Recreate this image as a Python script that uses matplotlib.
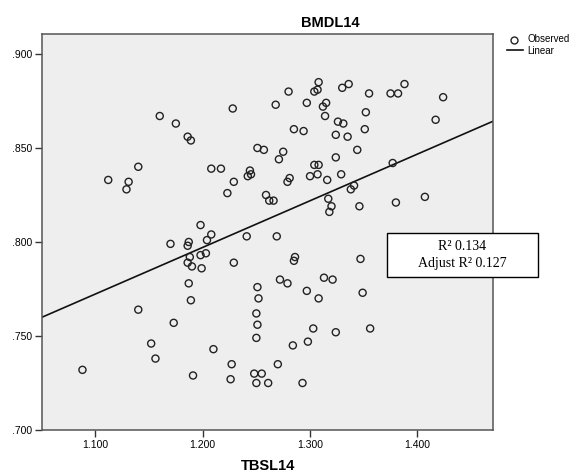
import matplotlib
matplotlib.use("Agg")
import matplotlib.pyplot as plt
import numpy as np
from matplotlib.patches import Rectangle
from matplotlib.lines import Line2D

# values
tbsl = [1.160, 1.175, 1.186, 1.189, 1.140, 1.112, 1.131, 1.129,
        1.228, 1.268, 1.280, 1.297, 1.308, 1.304, 1.307, 1.330, 1.315, 1.312,
        1.314, 1.326, 1.331, 1.324, 1.335, 1.285, 1.294, 1.251, 1.257, 1.275,
        1.271, 1.324, 1.208, 1.217, 1.244, 1.242, 1.245, 1.229, 1.223, 1.281,
        1.279, 1.300, 1.304, 1.308, 1.307, 1.316, 1.329, 1.259, 1.262, 1.266,
        1.317, 1.320, 1.318, 1.198, 1.208, 1.269,
        1.336, 1.355, 1.375, 1.382, 1.388, 1.424, 1.417, 1.352, 1.351, 1.344,
        1.377, 1.341, 1.338, 1.346, 1.380, 1.407,
        1.170, 1.187, 1.186, 1.188, 1.186, 1.190, 1.187, 1.189, 1.140, 1.173,
        1.152, 1.156, 1.088, 1.191,
        1.204, 1.198, 1.203, 1.199, 1.241, 1.229, 1.286, 1.285, 1.272, 1.279,
        1.313, 1.321, 1.297, 1.308, 1.251, 1.252, 1.250, 1.251, 1.250, 1.303,
        1.324, 1.298, 1.284, 1.210, 1.227, 1.226, 1.270, 1.248, 1.255, 1.250,
        1.261, 1.293,
        1.347, 1.349, 1.356]
bmdl = [0.867, 0.863, 0.856, 0.854, 0.840, 0.833, 0.832, 0.828,
        0.871, 0.873, 0.880, 0.874, 0.885, 0.880, 0.881, 0.882, 0.874, 0.872,
        0.867, 0.864, 0.863, 0.857, 0.856, 0.860, 0.859, 0.850, 0.849, 0.848,
        0.844, 0.845, 0.839, 0.839, 0.838, 0.835, 0.836, 0.832, 0.826, 0.834,
        0.832, 0.835, 0.841, 0.841, 0.836, 0.833, 0.836, 0.825, 0.822, 0.822,
        0.823, 0.819, 0.816, 0.809, 0.804, 0.803,
        0.884, 0.879, 0.879, 0.879, 0.884, 0.877, 0.865, 0.869, 0.860, 0.849,
        0.842, 0.830, 0.828, 0.819, 0.821, 0.824,
        0.799, 0.800, 0.798, 0.792, 0.789, 0.787, 0.778, 0.769, 0.764, 0.757,
        0.746, 0.738, 0.732, 0.729,
        0.801, 0.793, 0.794, 0.786, 0.803, 0.789, 0.792, 0.790, 0.780, 0.778,
        0.781, 0.780, 0.774, 0.770, 0.776, 0.770, 0.762, 0.756, 0.749, 0.754,
        0.752, 0.747, 0.745, 0.743, 0.735, 0.727, 0.735, 0.730, 0.730, 0.725,
        0.725, 0.725,
        0.791, 0.773, 0.754]

x_ticks = [1.1, 1.2, 1.3, 1.4]
y_ticks = [0.70, 0.75, 0.80, 0.85, 0.90]
r2 = 0.134
adj_r2 = 0.127

fig = plt.figure(figsize=(5.78, 4.74), dpi=100, facecolor="white")
ax = fig.add_axes([0.0721, 0.0928, 0.780, 0.8354], facecolor="#eeeeee")

ax.scatter(tbsl, bmdl, s=26, facecolors="none", edgecolors="#222222",
           linewidths=1.0, zorder=3)

# linear fit
slope, icpt = np.polyfit(tbsl, bmdl, 1)
xl = np.array([1.05, 1.47])
ax.plot(xl, icpt + slope * xl, color="#111111", lw=1.2, zorder=2)

ax.set_xlim(1.05, 1.47)
ax.set_ylim(0.70, 0.9106)
ax.set_xticks(x_ticks)
ax.set_yticks(y_ticks)
ax.set_xticklabels(["%.3f" % v for v in x_ticks])
ax.set_yticklabels([("%.3f" % v)[1:] for v in y_ticks])
ax.tick_params(direction="out", length=5, width=1, color="#333333",
               labelsize=7.5, pad=2)
for lab in ax.get_xticklabels() + ax.get_yticklabels():
    lab.set_family("Liberation Sans")
for sp in ax.spines.values():
    sp.set_color("#555555")
    sp.set_linewidth(1.1)

fig.text(330 / 578, 1 - 23 / 474, "BMDL14", ha="center", va="center",
         fontsize=10.5, fontweight="bold", family="Liberation Sans")
fig.text(268 / 578, 1 - 466 / 474, "TBSL14", ha="center", va="center",
         fontsize=10.5, fontweight="bold", family="Liberation Sans")

# legend on the right
fig.add_artist(Line2D([514 / 578], [1 - 40 / 474], marker="o", ms=5,
                      mfc="none", mec="#222222", mew=1.0, transform=fig.transFigure))
fig.add_artist(Line2D([507 / 578, 523 / 578], [1 - 50 / 474] * 2, color="#111111",
                      lw=1.2, transform=fig.transFigure))
fig.text(527 / 578, 1 - 39.5 / 474, "Observed", va="center", fontsize=7,
         family="Liberation Sans")
fig.text(527 / 578, 1 - 51 / 474, "Linear", va="center", fontsize=7,
         family="Liberation Sans")

# R squared box
box = Rectangle((387 / 578, 1 - 277 / 474), (538 - 387) / 578, 44 / 474,
                transform=fig.transFigure, facecolor="white", edgecolor="black",
                lw=1.0, zorder=10)
fig.add_artist(box)
fig.text(462 / 578, 1 - 246 / 474, "R\u00b2 0.%03d" % round(r2 * 1000), ha="center",
         va="center", fontsize=10, family="Liberation Serif", zorder=11)
fig.text(462 / 578, 1 - 264 / 474, "Adjust R\u00b2 0.%03d" % round(adj_r2 * 1000),
         ha="center", va="center", fontsize=10, family="Liberation Serif", zorder=11)

fig.savefig("out.png", dpi=100, facecolor="white")
